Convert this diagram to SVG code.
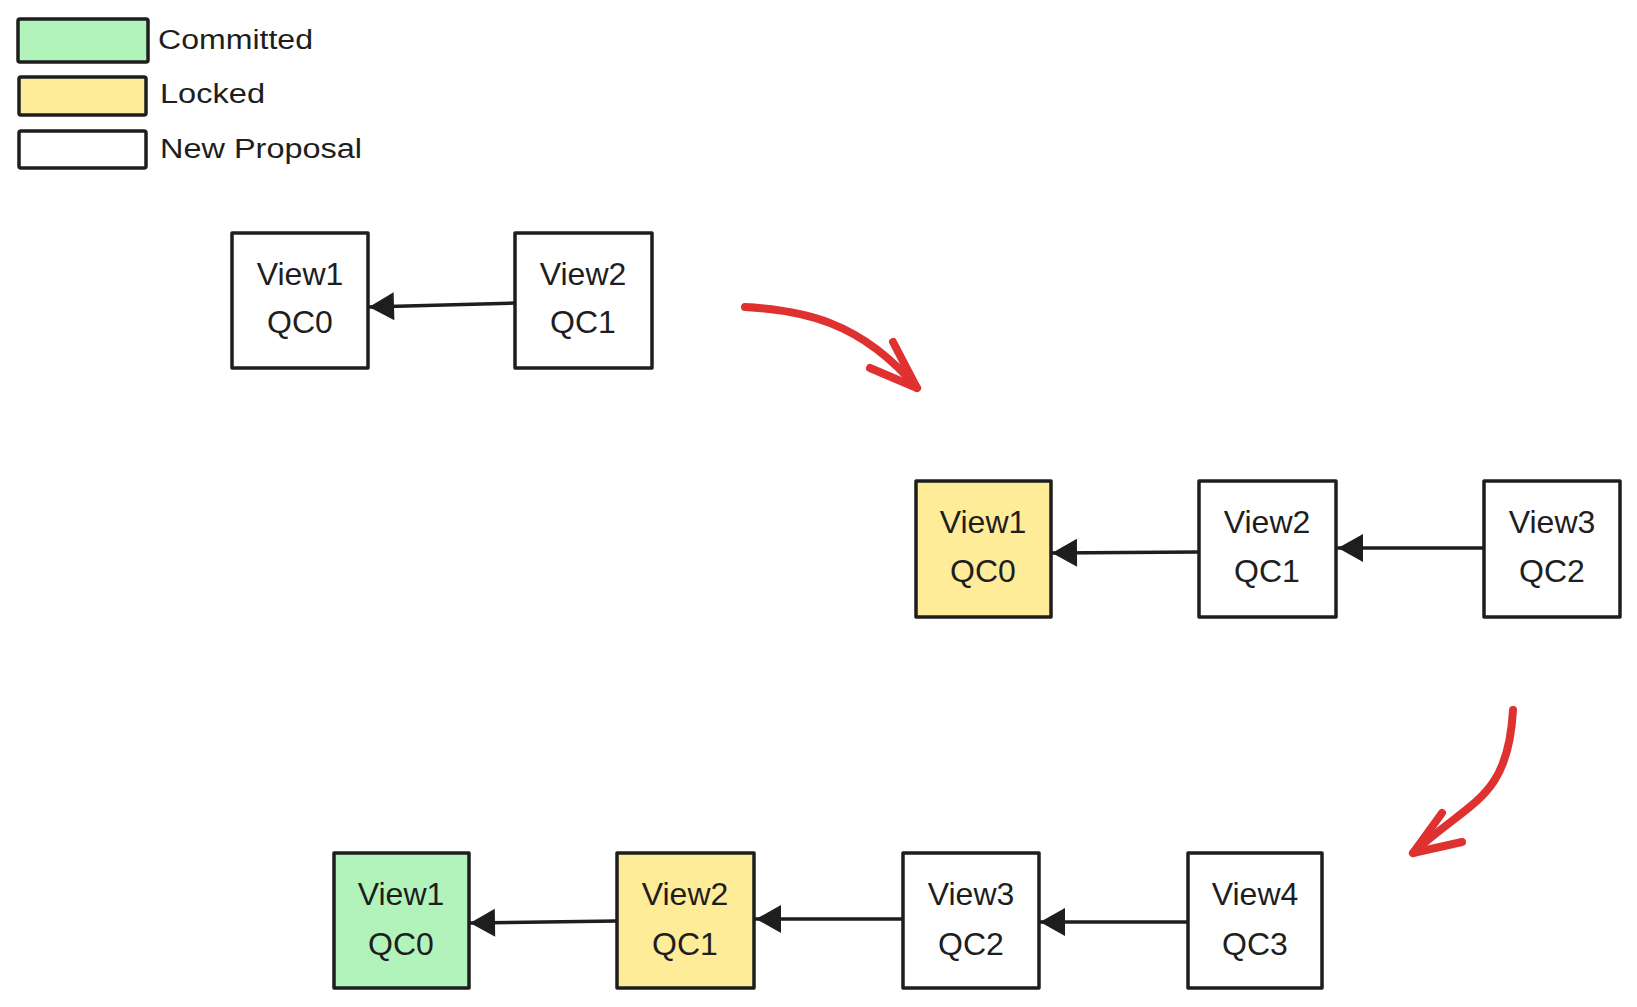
<svg xmlns="http://www.w3.org/2000/svg" width="1637" height="1007" viewBox="0 0 1637 1007">
<style>
.box{stroke:#1e1e1e;stroke-width:3.5;stroke-linejoin:round}
.white{fill:#ffffff}
.yellow{fill:#ffec99}
.green{fill:#b2f2bb}
.lbl{font-family:"Liberation Sans",Arial,sans-serif;font-size:32px;fill:#1e1e1e;text-anchor:middle}
.leg{font-family:"Liberation Sans",Arial,sans-serif;font-size:27px;fill:#1e1e1e}
.conn{stroke:#1e1e1e;stroke-width:3.5;fill:none;stroke-linecap:round}
.red{stroke:#e03131;stroke-width:8;fill:none;stroke-linecap:round;stroke-linejoin:round}
</style>
<defs>
<marker id="ah" markerUnits="userSpaceOnUse" markerWidth="28" markerHeight="32" refX="26" refY="15" orient="auto">
<path d="M1,1 L26,15 L1,29 Z" fill="#1e1e1e"/>
</marker>
</defs>
<rect width="1637" height="1007" fill="#ffffff"/>

<g id="legend">
<rect class="box green" x="18" y="19" width="130" height="43" rx="2"/>
<text class="leg" x="158" y="49" textLength="155" lengthAdjust="spacingAndGlyphs">Committed</text>
<rect class="box yellow" x="19" y="77" width="127" height="38" rx="2"/>
<text class="leg" x="160" y="103" textLength="105" lengthAdjust="spacingAndGlyphs">Locked</text>
<rect class="box white" x="19" y="131" width="127" height="37" rx="2"/>
<text class="leg" x="160" y="158" textLength="202" lengthAdjust="spacingAndGlyphs">New Proposal</text>
</g>

<g id="connectors">
<path class="conn" d="M515,303 L369,307" marker-end="url(#ah)"/>
<path class="conn" d="M1199,552 L1052,553" marker-end="url(#ah)"/>
<path class="conn" d="M1484,548 L1338,548" marker-end="url(#ah)"/>
<path class="conn" d="M617,921 L470,923" marker-end="url(#ah)"/>
<path class="conn" d="M903,919 L756,919" marker-end="url(#ah)"/>
<path class="conn" d="M1188,922 L1040,922" marker-end="url(#ah)"/>
<path class="red" d="M745,307 C800,310 860,320 917,388"/>
<path class="red" d="M893,342 L917,388 L870,368"/>
<path class="red" d="M1513,710 C1508,800 1470,800 1413,853"/>
<path class="red" d="M1442,813 L1413,853 L1462,842"/>
</g>

<g id="top-view1">
<rect class="box white" x="232" y="233" width="136" height="135"/>
<text class="lbl" x="300" y="285">View1</text>
<text class="lbl" x="300" y="333">QC0</text>
</g>
<g id="top-view2">
<rect class="box white" x="515" y="233" width="137" height="135"/>
<text class="lbl" x="583" y="285">View2</text>
<text class="lbl" x="583" y="333">QC1</text>
</g>

<g id="mid-view1">
<rect class="box yellow" x="916" y="481" width="135" height="136"/>
<text class="lbl" x="983" y="533">View1</text>
<text class="lbl" x="983" y="582">QC0</text>
</g>
<g id="mid-view2">
<rect class="box white" x="1199" y="481" width="137" height="136"/>
<text class="lbl" x="1267" y="533">View2</text>
<text class="lbl" x="1267" y="582">QC1</text>
</g>
<g id="mid-view3">
<rect class="box white" x="1484" y="481" width="136" height="136"/>
<text class="lbl" x="1552" y="533">View3</text>
<text class="lbl" x="1552" y="582">QC2</text>
</g>

<g id="bot-view1">
<rect class="box green" x="334" y="853" width="135" height="135"/>
<text class="lbl" x="401" y="905">View1</text>
<text class="lbl" x="401" y="955">QC0</text>
</g>
<g id="bot-view2">
<rect class="box yellow" x="617" y="853" width="137" height="135"/>
<text class="lbl" x="685" y="905">View2</text>
<text class="lbl" x="685" y="955">QC1</text>
</g>
<g id="bot-view3">
<rect class="box white" x="903" y="853" width="136" height="135"/>
<text class="lbl" x="971" y="905">View3</text>
<text class="lbl" x="971" y="955">QC2</text>
</g>
<g id="bot-view4">
<rect class="box white" x="1188" y="853" width="134" height="135"/>
<text class="lbl" x="1255" y="905">View4</text>
<text class="lbl" x="1255" y="955">QC3</text>
</g>
</svg>
